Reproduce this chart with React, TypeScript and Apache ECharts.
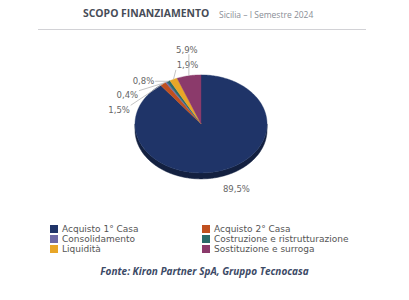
import React, { useEffect, useRef } from 'react';
import * as echarts from 'echarts';

const categories = [
  'Acquisto 1° Casa',
  'Acquisto 2° Casa',
  'Consolidamento',
  'Costruzione e ristrutturazione',
  'Liquidità',
  'Sostituzione e surroga',
];
const shares = [89.5, 1.5, 0.4, 0.8, 1.9, 5.9];
const colors = ['#1f3468', '#c0501f', '#6e6aa6', '#2a6b6a', '#e8a628', '#8b3a6b'];
const legendLeftItems = [0, 2, 4];
const legendRightItems = [1, 3, 5];
const titleText = 'SCOPO FINANZIAMENTO';
const subtitleText = 'Sicilia – I Semestre 2024';
const sourceText = 'Fonte: Kiron Partner SpA, Gruppo Tecnocasa';

// layout constants (label offsets from slice anchors)
const labelOffsets = [[14, 19], [-44, 26], [-39, 13], [-25, 0], [14, -14], [-2, -26]];
const showLeader = [false, true, true, true, true, true];

const total = shares.reduce((a, b) => a + b, 0);
const starts = shares.map((_, i) => shares.slice(0, i).reduce((a, b) => a + b, 0));

function darken(hex: string, f: number) {
  const h = hex.replace('#', '');
  const r = Math.round(parseInt(h.slice(0, 2), 16) * f);
  const g = Math.round(parseInt(h.slice(2, 4), 16) * f);
  const b = Math.round(parseInt(h.slice(4, 6), 16) * f);
  return `rgb(${r},${g},${b})`;
}

const fmt = (v: number) => v.toFixed(1).replace('.', ',') + '%';

export default function App() {
  const ref = useRef<HTMLDivElement>(null);
  useEffect(() => {
    if (!ref.current) return;
    const chart = echarts.init(ref.current, undefined, { renderer: 'svg' });

    const renderItem = (params: any, api: any) => {
      const W = api.getWidth();
      const H = api.getHeight();
      const cx = W * 0.4915;
      const cy = H * 0.413;
      const rx = 66;
      const ry = 49;
      const depth = 6;
      const pt = (a: number, dy = 0) => [cx + rx * Math.sin(a), cy - ry * Math.cos(a) + dy];
      const arc = (a0: number, a1: number, dy = 0) => {
        const n = Math.max(2, Math.ceil((a1 - a0) / (Math.PI / 180)));
        const pts: number[][] = [];
        for (let k = 0; k <= n; k++) pts.push(pt(a0 + ((a1 - a0) * k) / n, dy));
        return pts;
      };
      const i = params.seriesIndex;
      const v = api.value(0);
      const a0 = (starts[i] / total) * Math.PI * 2;
      const a1 = a0 + (v / total) * Math.PI * 2;
      const color = colors[i];
      const children: any[] = [];
      const s0 = Math.max(a0, Math.PI / 2);
      const s1 = Math.min(a1, (Math.PI * 3) / 2);
      if (s1 > s0) {
        const top = arc(s0, s1);
        const bot = arc(s0, s1, depth).reverse();
        children.push({
          type: 'polygon',
          shape: { points: top.concat(bot) },
          style: { fill: darken(color, 0.62), stroke: darken(color, 0.62), lineWidth: 0.5 },
        });
      }
      children.push({
        type: 'polygon',
        shape: { points: [[cx, cy], ...arc(a0, a1)] },
        style: { fill: color, stroke: color, lineWidth: 0.4 },
      });
      const am = (a0 + a1) / 2;
      const [ax, ay] = pt(am);
      const [dx, dy] = labelOffsets[i];
      const lx = ax + dx;
      const ly = ay + dy;
      const txt = fmt(v);
      const w = txt.length * 5.3;
      const h = 9;
      if (showLeader[i]) {
        const ex = Math.min(Math.max(ax, lx - w / 2 - 1), lx + w / 2 + 1);
        const ey = Math.min(Math.max(ay, ly - h / 2), ly + h / 2);
        children.push({
          type: 'line',
          shape: { x1: ax, y1: ay, x2: ex, y2: ey },
          style: { stroke: '#b5b5b5', lineWidth: 0.8 },
        });
      }
      children.push({
        type: 'text',
        style: {
          text: txt,
          x: lx,
          y: ly,
          align: 'center',
          verticalAlign: 'middle',
          fill: '#666',
          font: '8.5px "DejaVu Sans"',
        },
      });
      return { type: 'group', children };
    };

    const legendBase = {
      orient: 'vertical' as const,
      top: 224,
      itemWidth: 8,
      itemHeight: 8,
      itemGap: 0,
      padding: 0,
      icon: 'rect',
      selectedMode: false,
      textStyle: { fontSize: 9, color: '#555', fontFamily: 'DejaVu Sans', lineHeight: 10, padding: [0, 0, 0, -1] },
    };

    chart.setOption({
      animation: false,
      backgroundColor: '#fff',
      legend: [
        { ...legendBase, left: 50, data: legendLeftItems.map((k) => categories[k]) },
        { ...legendBase, left: 202, data: legendRightItems.map((k) => categories[k]) },
      ],
      graphic: [
        {
          type: 'text',
          left: 83,
          top: 8,
          style: { text: titleText, font: 'bold 10.4px "Open Sans"', fill: '#474c57' },
        },
        {
          type: 'text',
          left: 219,
          top: 10,
          style: { text: subtitleText, font: '8.5px "Open Sans"', fill: '#8a8e96' },
        },
        {
          type: 'line',
          shape: { x1: 38, y1: 29.5, x2: 366, y2: 29.5 },
          style: { stroke: '#d2d2d6', lineWidth: 1 },
        },
        {
          type: 'text',
          left: 'center',
          top: 266,
          style: { text: sourceText, font: 'italic bold 10px "Open Sans"', fill: '#3c4a66' },
        },
      ],
      series: categories.map((name, i) => ({
        type: 'custom',
        name,
        coordinateSystem: 'none',
        itemStyle: { color: colors[i] },
        data: [[shares[i]]],
        renderItem,
      })),
    });
    return () => chart.dispose();
  }, []);
  return (
    <div
      ref={ref}
      style={{ position: 'fixed', left: 0, top: 0, width: 409, height: 300, background: '#fff' }}
    />
  );
}
